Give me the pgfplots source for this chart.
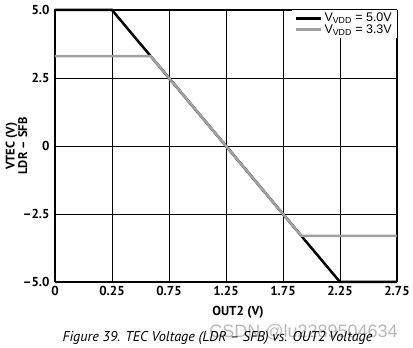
\documentclass[border=0pt]{standalone}
\usepackage{fontspec}
\setmainfont{PT Sans}
\newfontfamily\arialf{Liberation Sans}
\usepackage{pgfplots}
\pgfplotsset{compat=1.18}
\definecolor{lgray}{RGB}{160,160,160}
\begin{document}
\begin{tikzpicture}[x=1pt,y=1pt]
\path[use as bounding box] (-55,-66) rectangle (358,282);
\begin{axis}[
  at={(0,0)}, anchor=south west,
  scale only axis, width=342pt, height=272pt,
  xmin=0, xmax=6, ymin=-5, ymax=5,
  xtick={0,1,2,3,4,5,6},
  xticklabels={0,0.25,0.75,1.25,1.75,2.25,2.75},
  ytick={-5,-2.5,0,2.5,5},
  yticklabels={--5.0,--2.5,0,2.5,5.0},
  grid=major,
  major grid style={black, line width=0.8pt},
  axis line style={black, line width=1pt},
  major tick length=0pt,
  ticklabel style={font=\bfseries\fontsize{13}{14}\selectfont},
  xticklabel style={yshift=-1pt},
  yticklabel style={xshift=-2pt},
  clip=false,
  legend style={at={(rel axis cs:1,1)}, anchor=north east, draw=none, fill=white,
    font=\arialf\fontsize{12.5}{13}\selectfont, row sep=-3pt, inner xsep=3pt, inner ysep=1pt},
  legend cell align=left,
  legend image code/.code={\draw[#1] (0pt,0pt) -- (25pt,0pt);},
]
\addplot[black, line width=2.5pt] coordinates {(0,5) (1,5) (5,-5) (6,-5)};
\addlegendentry{V\textsubscript{VDD} = 5.0V}
\addplot[lgray, line width=2.5pt] coordinates {(0,3.3) (1.68,3.3) (4.32,-3.3) (6,-3.3)};
\addlegendentry{V\textsubscript{VDD} = 3.3V}
\end{axis}
\node[rotate=90, align=center, font=\bfseries\fontsize{12.5}{11}\selectfont] at (-38.5,136) {VTEC (V)\\LDR -- SFB};
\node[font=\bfseries\fontsize{13}{14}\selectfont] at (183,-30) {OUT2 (V)};
\node[text=gray!55, font=\arialf\fontsize{18}{19}\selectfont] at (248.5,-50) {CSDN @lu2289504634};
\node[font=\itshape\fontsize{14.2}{15}\selectfont] at (162.5,-56) {Figure 39. TEC Voltage (LDR -- SFB) vs. OUT2 Voltage};
\end{tikzpicture}
\end{document}
